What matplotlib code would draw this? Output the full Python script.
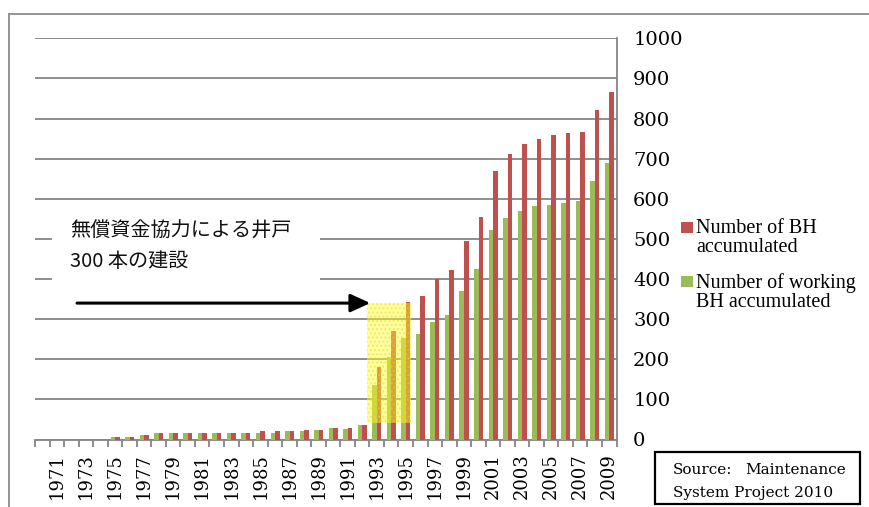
import matplotlib
matplotlib.use("Agg")
import matplotlib.pyplot as plt
import numpy as np
from matplotlib.patches import Rectangle
from matplotlib.lines import Line2D
from matplotlib.ticker import FixedLocator

# Accumulated boreholes per year
years = list(range(1970, 2010))
bh_total = [0, 0, 0, 0, 0, 6, 7, 11, 15, 15,
            15, 15, 15, 15, 15, 20, 20, 20, 24, 24,
            28, 28, 36, 180, 271, 343, 357, 400, 422, 496,
            555, 668, 711, 737, 750, 758, 763, 767, 822, 865]
bh_working = [0, 0, 0, 0, 0, 5, 6, 10, 15, 15,
              15, 15, 15, 15, 15, 15, 15, 20, 20, 24,
              28, 27, 35, 136, 206, 253, 262, 292, 310, 370,
              426, 521, 551, 569, 581, 585, 590, 594, 645, 688]
yticks = list(range(0, 1001, 100))
series_names = ["Number of BH\naccumulated", "Number of working\nBH accumulated"]
note_text = "無償資金協力による井戸\n300 本の建設"

RED = "#C0504D"
GREEN = "#9BBB59"
GRID = "#868686"
SERIF = ["Liberation Serif", "DejaVu Serif"]
WIDE_SERIF = ["DejaVu Serif"]

W, H = 869, 507
fig = plt.figure(figsize=(W / 100, H / 100), dpi=100)
ax = fig.add_axes([35 / W, (H - 439.5) / H, (616.5 - 35) / W, (439.5 - 38.3) / H])

x = np.arange(len(years))
ax.bar(x - 0.145, bh_working, width=0.31, color=GREEN, zorder=3)
ax.bar(x + 0.165, bh_total, width=0.31, color=RED, zorder=3)

ax.set_xlim(-0.5, len(years) - 0.5)
ax.set_ylim(0, 1000)

# right-hand value axis with horizontal gridlines
ax.yaxis.tick_right()
ax.set_yticks(yticks)
ax.set_yticklabels([str(v) for v in yticks], family=WIDE_SERIF, fontsize=14)
ax.tick_params(axis="y", length=0, pad=12)
ax.set_axisbelow(True)
ax.grid(axis="y", color=GRID, lw=1.3)

# category axis: tick marks between years, labels on odd years
lab_idx = [i for i, y in enumerate(years) if y % 2 == 1]
ax.set_xticks(lab_idx)
ax.set_xticklabels([str(years[i]) for i in lab_idx], rotation=90,
                   family=WIDE_SERIF, fontsize=13)
ax.xaxis.set_minor_locator(FixedLocator(np.arange(-0.5, len(years), 1.0)))
ax.tick_params(axis="x", which="major", length=0, pad=10)
ax.tick_params(axis="x", which="minor", length=5, width=1.3, color=GRID, direction="out")

for s in ("left", "top"):
    ax.spines[s].set_visible(False)
for s in ("bottom", "right"):
    ax.spines[s].set_color(GRID)
    ax.spines[s].set_linewidth(1.3)

# grant-aid period highlight
ax.add_patch(Rectangle((22.36, 41), 3.03, 299, facecolor=(1, 1, 0.2, 0.45),
                       edgecolor=(0.95, 0.85, 0.0, 0.5), hatch="....", lw=0, zorder=4))

# annotation box with arrow
ax.add_patch(Rectangle((0.67, 360), 18.43, 230, facecolor="white", edgecolor="none", zorder=2))
ax.text(1.91, 545, note_text, family=["Noto Sans CJK JP", "DejaVu Sans"], fontsize=14.5,
        va="top", ha="left", linespacing=1.6, color="#111111", zorder=5)
ax.annotate("", xy=(22.56, 340), xytext=(2.39, 340),
            arrowprops=dict(arrowstyle="-|>,head_length=1.2,head_width=0.55",
                            mutation_scale=10, lw=2.2, color="black",
                            shrinkA=0, shrinkB=0), zorder=5)

# legend
def px(xp, yp):
    return xp / W, 1 - yp / H

for (ypx, color, name) in [(221.7, RED, series_names[0]), (275.7, GREEN, series_names[1])]:
    fx, fy = px(681, ypx + 11.5)
    fig.add_artist(Rectangle((fx, fy), 11.5 / W, 11.5 / H, transform=fig.transFigure,
                             facecolor=color, edgecolor="none"))
    tx, ty = px(696, ypx - 3)
    fig.text(tx, ty, name, family=SERIF, fontsize=14.5, va="top", ha="left",
             linespacing=1.05)

# outer frame (left and top edges)
fig.add_artist(Line2D([9 / W, 9 / W], [0, 1 - 14 / H], transform=fig.transFigure,
                      color="#8c8c8c", lw=1.3))
fig.add_artist(Line2D([9 / W, 1], [1 - 14 / H, 1 - 14 / H], transform=fig.transFigure,
                      color="#8c8c8c", lw=1.3))

# source box
bx, by = px(655, 504)
fig.add_artist(Rectangle((bx, by), 205 / W, 52 / H, transform=fig.transFigure,
                         fill=False, edgecolor="black", lw=1.6))
fig.text(*px(673, 474), "Source:", family=WIDE_SERIF, fontsize=11, va="baseline")
fig.text(*px(846, 474), "Maintenance", family=WIDE_SERIF, fontsize=11,
         va="baseline", ha="right")
fig.text(*px(673, 497), "System Project 2010", family=WIDE_SERIF, fontsize=11,
         va="baseline")

fig.savefig("out.png", dpi=100)
